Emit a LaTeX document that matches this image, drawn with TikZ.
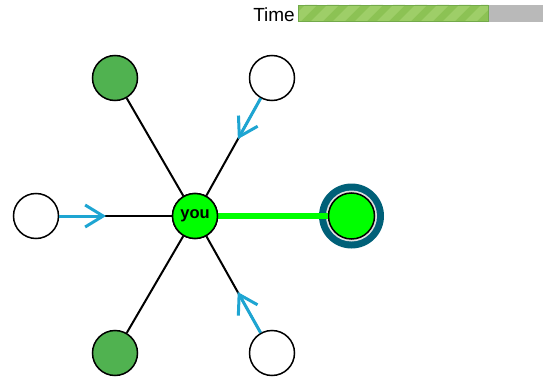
\documentclass[tikz,border=0pt]{standalone}
\usepackage{fontspec}
\setmainfont{Liberation Sans}
\usetikzlibrary{arrows.meta,calc}
\definecolor{lime}{RGB}{0,255,0}
\definecolor{dgreen}{RGB}{80,178,80}
\definecolor{teal}{RGB}{0,96,120}
\definecolor{ablue}{RGB}{30,165,210}
\definecolor{bargreen}{RGB}{140,194,84}
\definecolor{barstripe}{RGB}{158,206,104}
\definecolor{barborder}{RGB}{115,170,75}
\definecolor{bargray}{RGB}{185,185,185}
\tikzset{
  peer/.style={circle,draw=black,line width=1.5pt,minimum size=45pt,inner sep=0pt,fill=white},
  friend/.style={peer,fill=dgreen},
  me/.style={peer,fill=lime,font=\bfseries\fontsize{16.5}{16.5}\selectfont},
  link/.style={draw=black,line width=2pt},
  pull/.style={draw=ablue,line width=3pt,-{Straight Barb[length=18pt,width=22pt,line width=3pt]}},
  active/.style={draw=lime,line width=6pt},
}
\begin{document}
\begin{tikzpicture}[x=1pt,y=-1pt]
\useasboundingbox (0,0) rectangle (543,377);
% time bar
\node[anchor=east,inner sep=0pt,font=\fontsize{19}{19}\selectfont] (tlabel) at (295,15) {Time};
\coordinate (barA) at (298,5);
\coordinate (barB) at (543,22);
\fill[bargray] (barA) rectangle (barB);
\begin{scope}
\clip (298,5) rectangle (488,22);
\fill[bargreen] (298,5) rectangle (488,22);
\foreach \i in {0,...,10} {
  \fill[barstripe] ({288+\i*22},22) -- ({300+\i*22},22) -- ({317+\i*22},5) -- ({305+\i*22},5) -- cycle;
}
\end{scope}
\draw[barborder,line width=0.8pt] (298.4,5.4) rectangle (488,21.6);
% nodes
\node[me] (you) at (195,216) {you};
\node[friend] (tl) at (115,78) {};
\node[peer] (tr) at (272,78) {};
\node[peer] (l) at (36,216) {};
\node[friend] (bl) at (115,353) {};
\node[peer] (br) at (272,353) {};
\coordinate (rc) at (351.5,216);
% links
\draw[link] (you) -- (tl);
\draw[link] (you) -- (tr);
\draw[link] (you) -- (l);
\draw[link] (you) -- (bl);
\draw[link] (you) -- (br);
\fill[teal] (rc) circle (32.5);
\fill[white!75!gray] (rc) circle (25.5);
\node[peer,fill=lime,minimum size=46pt] (r) at (rc) {};
\draw[active] (you) -- (r);
\draw[pull] (l) -- ($(l.center)!70pt!(you.center)$);
\draw[pull] (tr) -- ($(tr.center)!70pt!(you.center)$);
\draw[pull] (br) -- ($(br.center)!70pt!(you.center)$);
\node[me] at (you) {you};
\end{tikzpicture}
\end{document}
